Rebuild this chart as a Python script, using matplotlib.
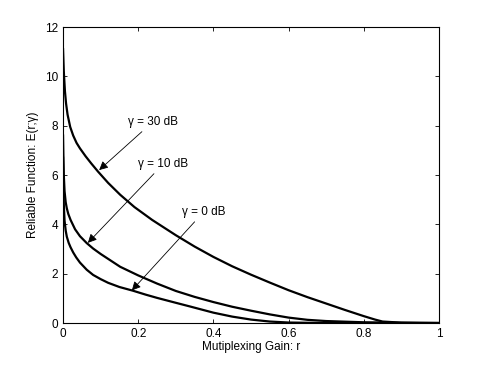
import numpy as np
import matplotlib
matplotlib.use('Agg')
import matplotlib.pyplot as plt

plt.rcParams['font.family'] = ['Liberation Sans', 'DejaVu Sans']

# curves (r, E)
r_30 = [0.0, 0.002, 0.005, 0.008, 0.012, 0.019, 0.027, 0.036, 0.045, 0.06, 0.075, 0.093, 0.12, 0.152,
        0.19, 0.237, 0.3, 0.35, 0.4, 0.45, 0.5, 0.55, 0.6, 0.65, 0.7, 0.75, 0.8, 0.83, 0.85, 0.9, 0.95, 1.0]
e_30 = [11.1, 10.2, 9.4, 8.9, 8.45, 7.95, 7.6, 7.3, 7.08, 6.76, 6.47, 6.14, 5.68, 5.2,
        4.7, 4.18, 3.56, 3.1, 2.68, 2.3, 1.96, 1.64, 1.33, 1.05, 0.79, 0.53, 0.28, 0.14, 0.06, 0.015, 0.005, 0.0]

r_10 = [0.0, 0.001, 0.002, 0.004, 0.007, 0.01, 0.014, 0.02, 0.032, 0.045, 0.063, 0.08, 0.1, 0.125,
        0.152, 0.2, 0.25, 0.3, 0.35, 0.4, 0.45, 0.5, 0.55, 0.6, 0.65, 0.7, 0.8, 0.9, 1.0]
e_10 = [7.6, 6.7, 6.0, 5.35, 4.9, 4.65, 4.42, 4.18, 3.8, 3.52, 3.24, 3.02, 2.8, 2.55,
        2.28, 1.93, 1.6, 1.3, 1.06, 0.85, 0.66, 0.5, 0.35, 0.22, 0.13, 0.08, 0.03, 0.01, 0.0]

r_0 = [0.0, 0.001, 0.002, 0.004, 0.007, 0.01, 0.015, 0.02, 0.027, 0.035, 0.045, 0.063, 0.08, 0.1, 0.12, 0.15,
       0.186, 0.22, 0.25, 0.3, 0.338, 0.4, 0.45, 0.5, 0.55, 0.6, 0.7, 1.0]
e_0 = [6.7, 5.6, 4.8, 4.15, 3.75, 3.5, 3.25, 3.07, 2.86, 2.66, 2.45, 2.16, 1.95, 1.78, 1.63, 1.46,
       1.31, 1.15, 1.02, 0.82, 0.67, 0.42, 0.26, 0.14, 0.06, 0.02, 0.0, 0.0]

fig = plt.figure(figsize=(4.85, 3.65), dpi=100)
ax = fig.add_axes([0.130, 0.115, 0.775, 0.811])

for r, e in [(r_30, e_30), (r_10, e_10), (r_0, e_0)]:
    ax.plot(r, e, color='black', lw=1.6, solid_joinstyle='round')

arrow = dict(arrowstyle='-|>', color='black', lw=0.6, mutation_scale=13, shrinkA=1, shrinkB=0)
ax.annotate('γ = 30 dB', xy=(0.096, 6.2), xytext=(0.172, 8.15), fontsize=8.5,
            ha='left', va='center', arrowprops=arrow)
ax.annotate('γ = 10 dB', xy=(0.066, 3.25), xytext=(0.2, 6.45), fontsize=8.5,
            ha='left', va='center', arrowprops=arrow)
ax.annotate('γ = 0 dB', xy=(0.183, 1.32), xytext=(0.316, 4.5), fontsize=8.5,
            ha='left', va='center', arrowprops=arrow)

ax.set_xlim(0, 1)
ax.set_ylim(0, 12)
ax.set_xticks([0, 0.2, 0.4, 0.6, 0.8, 1])
ax.set_xticklabels(['0', '0.2', '0.4', '0.6', '0.8', '1'])
ax.set_yticks([0, 2, 4, 6, 8, 10, 12])
ax.tick_params(direction='in', top=True, right=True, labelsize=8.5, length=3, width=0.6)
for s in ax.spines.values():
    s.set_linewidth(0.8)
ax.set_xlabel('Mutiplexing Gain: r', fontsize=8.5, labelpad=1)
ax.set_ylabel('Reliable Function: E(r;γ)', fontsize=8.5, labelpad=4)

fig.savefig('out.png', dpi=100)
